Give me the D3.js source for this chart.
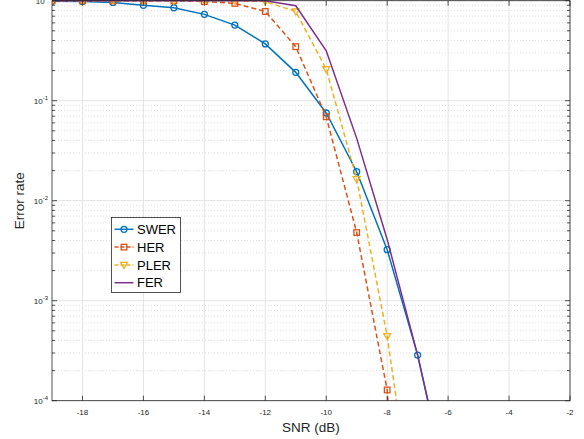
<!DOCTYPE html>
<html>
<head>
<meta charset="utf-8">
<script src="https://cdn.jsdelivr.net/npm/d3@7"></script>
<style>
  body { margin: 0; background: #fff; }
  text { font-family: "Liberation Sans", Arial, Helvetica, sans-serif; }
</style>
</head>
<body>
<div class="container"></div>
<script>
  // data
  var snr = [-19, -18, -17, -16, -15, -14, -13, -12, -11, -10, -9, -8, -7, -6];
  var swer = [0.99, 0.98, 0.96, 0.90, 0.85, 0.73, 0.57, 0.37, 0.192, 0.0753, 0.0195, 0.00324, 0.000286, 0.000012];
  var her  = [0.998, 0.998, 0.998, 0.998, 0.997, 0.98, 0.94, 0.78, 0.347, 0.069, 0.0048, 0.000128, 0.00000001];
  var pler = [0.999, 0.999, 0.999, 0.999, 0.999, 0.999, 0.998, 0.98, 0.78, 0.207, 0.0164, 0.000443, 0.0000035];
  var fer  = [0.999, 0.999, 0.999, 0.999, 0.999, 0.999, 0.999, 0.999, 0.89, 0.316, 0.042, 0.0041, 0.000286, 0.000013];
  var xTicks = [-18, -16, -14, -12, -10, -8, -6, -4, -2];
  var yTicks = [1e-4, 1e-3, 1e-2, 1e-1, 1];
  var yExp = ["-4", "-3", "-2", "-1", "0"];

  var seriesList = [
    {name: "SWER", vals: swer, color: "#0072BD", dash: null, marker: "circle"},
    {name: "HER", vals: her, color: "#D95319", dash: "5,3", marker: "square"},
    {name: "PLER", vals: pler, color: "#EDB120", dash: "5,3", marker: "triangle"},
    {name: "FER", vals: fer, color: "#7E2F8E", dash: null, marker: null}
  ];

  // frame (plot box edges)
  var w = 584;
  var h = 439;
  var pL = 52, pR = 570, pT = 0.7, pB = 400.7;

  var svg = d3.select(".container").append("svg").attr("width", w).attr("height", h);

  var x = d3.scaleLinear().domain([-19, -2]).range([pL, pR]);
  var y = d3.scaleLog().domain([1e-4, 1]).range([pB, pT]);

  // minor y values
  var minorY = [];
  yTicks.slice(0, 4).forEach(function(d){
    for (var k = 2; k <= 9; k++) minorY.push(d * k);
  });

  // grid
  var grid = svg.append("g");
  grid.selectAll(".mg").data(minorY).enter().append("line")
    .attr("x1", pL).attr("x2", pR)
    .attr("y1", function(d){ return y(d); }).attr("y2", function(d){ return y(d); })
    .attr("stroke", "#d4d4d4").attr("stroke-width", 0.8).attr("stroke-dasharray", "1,2");
  grid.selectAll(".gx").data(xTicks).enter().append("line")
    .attr("x1", function(d){ return x(d); }).attr("x2", function(d){ return x(d); })
    .attr("y1", pT).attr("y2", pB)
    .attr("stroke", "#e3e3e3").attr("stroke-width", 1);
  grid.selectAll(".gy").data(yTicks).enter().append("line")
    .attr("x1", pL).attr("x2", pR)
    .attr("y1", function(d){ return y(d); }).attr("y2", function(d){ return y(d); })
    .attr("stroke", "#e3e3e3").attr("stroke-width", 1);

  // clip
  svg.append("clipPath").attr("id", "clip").append("rect")
    .attr("x", pL).attr("y", pT - 4).attr("width", pR - pL).attr("height", pB - pT + 4);

  var plot = svg.append("g").attr("clip-path", "url(#clip)");

  function drawMarker(g, type, color){
    if (type == "circle") {
      g.append("circle").attr("r", 3).attr("fill", "none").attr("stroke", color).attr("stroke-width", 1.3);
    }
    else if (type == "square") {
      g.append("rect").attr("x", -2.8).attr("y", -2.8).attr("width", 5.6).attr("height", 5.6)
        .attr("fill", "none").attr("stroke", color).attr("stroke-width", 1.3);
    }
    else if (type == "triangle") {
      g.append("path").attr("d", "M-3.5,-2.5L3.5,-2.5L0,3.5Z")
        .attr("fill", "none").attr("stroke", color).attr("stroke-width", 1.3);
    }
  }

  seriesList.forEach(function(s){
    var pts = s.vals.map(function(v, i){ return [snr[i], v]; });
    var line = d3.line().x(function(d){ return x(d[0]); }).y(function(d){ return y(d[1]); });
    plot.append("path").datum(pts)
      .attr("d", line)
      .attr("fill", "none")
      .attr("stroke", s.color)
      .attr("stroke-width", 1.5)
      .attr("stroke-dasharray", s.dash);
    if (s.marker) {
      pts.forEach(function(p){
        if (p[1] < 1e-4) return;
        var g = plot.append("g").attr("transform", "translate(" + x(p[0]) + "," + y(p[1]) + ")");
        drawMarker(g, s.marker, s.color);
      });
    }
  });

  // axes box and ticks
  var axc = "#262626";
  svg.append("rect").attr("x", pL).attr("y", pT).attr("width", pR - pL).attr("height", pB - pT)
    .attr("fill", "none").attr("stroke", axc).attr("stroke-width", 0.8);

  var tk = svg.append("g").attr("stroke", axc).attr("stroke-width", 0.8);
  xTicks.forEach(function(d){
    tk.append("line").attr("x1", x(d)).attr("x2", x(d)).attr("y1", pB).attr("y2", pB - 5);
    tk.append("line").attr("x1", x(d)).attr("x2", x(d)).attr("y1", pT).attr("y2", pT + 5);
  });
  yTicks.forEach(function(d){
    tk.append("line").attr("x1", pL).attr("x2", pL + 5).attr("y1", y(d)).attr("y2", y(d));
    tk.append("line").attr("x1", pR).attr("x2", pR - 5).attr("y1", y(d)).attr("y2", y(d));
  });
  minorY.forEach(function(d){
    tk.append("line").attr("x1", pL).attr("x2", pL + 3).attr("y1", y(d)).attr("y2", y(d));
    tk.append("line").attr("x1", pR).attr("x2", pR - 3).attr("y1", y(d)).attr("y2", y(d));
  });

  // tick labels
  svg.selectAll(".xl").data(xTicks).enter().append("text")
    .attr("x", function(d){ return x(d); }).attr("y", pB + 14)
    .attr("text-anchor", "middle").attr("font-size", 8).attr("fill", axc)
    .text(function(d){ return d; });

  yTicks.forEach(function(d, i){
    var t = svg.append("text")
      .attr("x", pL - 4).attr("y", y(d) + 3)
      .attr("text-anchor", "end").attr("font-size", 8).attr("fill", axc);
    t.append("tspan").text("10");
    t.append("tspan").attr("dy", -4).attr("font-size", 6).text(yExp[i]);
  });

  // axis titles
  svg.append("text").attr("x", (pL + pR) / 2).attr("y", 432)
    .attr("text-anchor", "middle").attr("font-size", 13.5).attr("fill", axc).text("SNR (dB)");
  svg.append("text").attr("transform", "translate(24," + ((pT + pB) / 2) + ") rotate(-90)")
    .attr("text-anchor", "middle").attr("font-size", 13.5).attr("fill", axc).text("Error rate");

  // legend
  var lg = svg.append("g").attr("transform", "translate(111.5,217.5)");
  lg.append("rect").attr("width", 69).attr("height", 75)
    .attr("fill", "#fff").attr("stroke", axc).attr("stroke-width", 0.8);
  seriesList.forEach(function(s, i){
    var ly = 11.8 + i * 17.8;
    lg.append("line").attr("x1", 3).attr("x2", 22).attr("y1", ly).attr("y2", ly)
      .attr("stroke", s.color).attr("stroke-width", 1.5).attr("stroke-dasharray", s.dash ? "4,2" : null);
    if (s.marker) {
      var g = lg.append("g").attr("transform", "translate(12.5," + ly + ")");
      drawMarker(g, s.marker, s.color);
    }
    lg.append("text").attr("x", 25.5).attr("y", ly + 4.6).attr("font-size", 13).attr("fill", "#000").text(s.name);
  });
</script>
</body>
</html>
